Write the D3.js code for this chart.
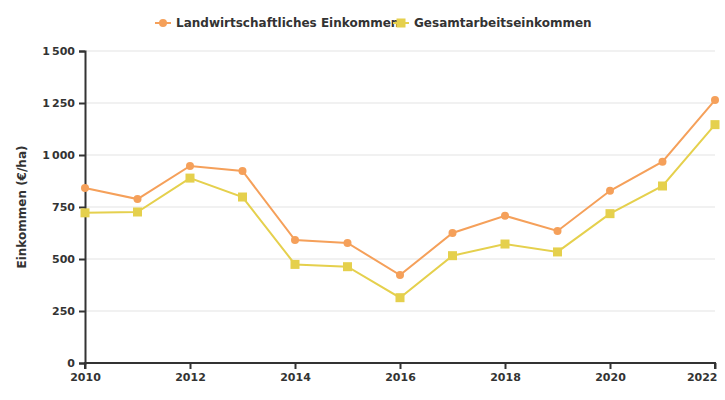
<!DOCTYPE html>
<html><head><meta charset="utf-8">
<script src="https://cdn.jsdelivr.net/npm/d3@7"></script>
<style>body{margin:0;background:#fff}svg{display:block;font-family:"DejaVu Sans",sans-serif}</style>
</head><body><svg id="c" width="725" height="400"></svg>
<script>
const years = [2010,2011,2012,2013,2014,2015,2016,2017,2018,2019,2020,2021,2022];
const landwirt = [841,788,947,923,591,577,423,625,708,635,828,968,1264];
const gesamt = [722,726,889,798,474,463,314,516,572,534,718,851,1146];
const seriesNames = ["Landwirtschaftliches Einkommen","Gesamtarbeitseinkommen"];
const yTicks = [0,250,500,750,1000,1250,1500];
const xTicks = [2010,2012,2014,2016,2018,2020,2022];
const colors = ["#F5A05A","#E5D04D"];

const svg = d3.select("#c");
const m = {l:85,r:10,t:51,b:37};
const W=725,H=400;
const x = d3.scaleLinear().domain([2010,2022]).range([m.l,W-m.r]);
const y = d3.scaleLinear().domain([0,1500]).range([H-m.b,m.t]);
const fmt = v => d3.format(",")(v).replace(/,/g,"\u2009");

// grid
svg.append("g").selectAll("line").data(yTicks.filter(d=>d>0)).join("line")
  .attr("x1",m.l).attr("x2",W-m.r).attr("y1",d=>y(d)).attr("y2",d=>y(d))
  .attr("stroke","#e3e3e3").attr("stroke-width",1);

const yAxis = svg.append("g").attr("transform",`translate(${m.l},0)`)
  .call(d3.axisLeft(y).tickValues(yTicks).tickFormat(fmt).tickSize(6).tickPadding(4));
const xAxis = svg.append("g").attr("transform",`translate(0,${H-m.b})`)
  .call(d3.axisBottom(x).tickValues(xTicks).tickFormat(d3.format("d")).tickSize(6).tickPadding(4));
[yAxis,xAxis].forEach(a=>{
  a.select(".domain").attr("stroke","#333").attr("stroke-width",2);
  a.selectAll(".tick line").attr("stroke","#333").attr("stroke-width",2);
  a.selectAll("text").attr("fill","#333").attr("font-size",11).attr("font-weight","bold").attr("font-family","DejaVu Sans");
});
xAxis.select(".domain").attr("d",`M${m.l},6V0H${W-m.r}V6`);
xAxis.selectAll(".tick").filter(d=>d===2022).select("text").attr("text-anchor","end").attr("dx",2);

svg.append("text").attr("transform",`translate(26,${(m.t+H-m.b)/2}) rotate(-90)`)
  .attr("text-anchor","middle").attr("font-size",12).attr("font-weight","bold").attr("fill","#333")
  .text("Einkommen (€/ha)");

const data = [landwirt,gesamt];
const line = d3.line().x((d,i)=>x(years[i])).y(d=>y(d));
data.forEach((s,k)=>{
  svg.append("path").datum(s).attr("d",line).attr("fill","none").attr("stroke",colors[k]).attr("stroke-width",2);
  if(k===0){
    svg.append("g").selectAll("circle").data(s).join("circle")
      .attr("cx",(d,i)=>x(years[i])).attr("cy",d=>y(d)).attr("r",4).attr("fill",colors[k]);
  } else {
    svg.append("g").selectAll("rect").data(s).join("rect")
      .attr("x",(d,i)=>x(years[i])-4.5).attr("y",d=>y(d)-4.5).attr("width",9).attr("height",9).attr("fill",colors[k]);
  }
});

// legend
const lg = svg.append("g");
const legX = [155,393];
seriesNames.forEach((n,k)=>{
  const g = lg.append("g").attr("transform",`translate(${legX[k]},23)`);
  g.append("line").attr("x1",0).attr("x2",16).attr("stroke",colors[k]).attr("stroke-width",2);
  if(k===0) g.append("circle").attr("cx",8).attr("r",4).attr("fill",colors[k]);
  else g.append("rect").attr("x",3.5).attr("y",-4.5).attr("width",9).attr("height",9).attr("fill",colors[k]);
  g.append("text").attr("x",21).attr("dy","0.35em").attr("font-size",12).attr("font-weight","bold").attr("fill","#333").text(n);
});
</script></body></html>
